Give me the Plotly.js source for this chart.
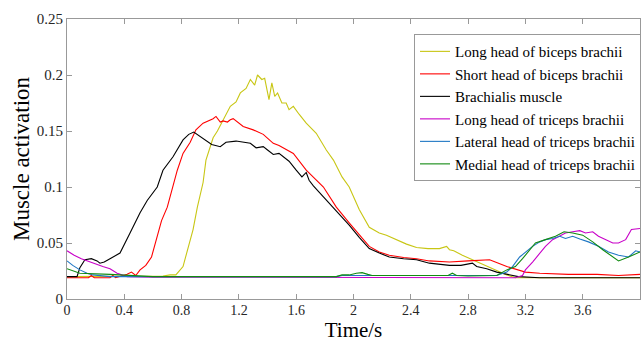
<!DOCTYPE html>
<html>
<head>
<meta charset="utf-8">
<script src="https://cdn.plot.ly/plotly-3.0.1.min.js"></script>
<style>html,body{margin:0;padding:0;background:#fff;}#chart{width:641px;height:342px;}</style>
</head>
<body>
<div id="chart"></div>
<script>
// Long head of biceps brachii
const tLongBiceps = [0,0.3,0.6,0.67,0.72,0.76,0.81,0.84,0.88,0.91,0.95,0.97,1.02,1.05,1.09,1.14,1.18,1.21,1.25,1.28,1.31,1.33,1.36,1.38,1.41,1.43,1.45,1.47,1.50,1.53,1.55,1.58,1.62,1.67,1.74,1.81,1.86,1.92,1.97,2.04,2.11,2.18,2.23,2.30,2.37,2.44,2.52,2.60,2.65,2.67,2.70,2.76,2.83,2.95,3.07,3.13,3.3,4.0];
const vLongBiceps = [0.02,0.02,0.02,0.0205,0.0215,0.0215,0.029,0.044,0.062,0.082,0.104,0.124,0.144,0.150,0.160,0.172,0.176,0.184,0.188,0.196,0.191,0.200,0.196,0.197,0.178,0.193,0.181,0.184,0.175,0.175,0.169,0.172,0.165,0.157,0.148,0.133,0.124,0.109,0.100,0.080,0.064,0.059,0.057,0.053,0.049,0.046,0.045,0.045,0.047,0.044,0.043,0.039,0.035,0.028,0.0215,0.019,0.019,0.019];
// Short head of biceps brachii
const tShortBiceps = [0,0.15,0.17,0.19,0.3,0.32,0.34,0.42,0.45,0.48,0.51,0.55,0.59,0.63,0.66,0.70,0.72,0.77,0.81,0.86,0.9,0.95,1.02,1.04,1.07,1.09,1.12,1.14,1.16,1.2,1.23,1.30,1.37,1.44,1.48,1.58,1.67,1.79,1.88,1.97,2.04,2.11,2.18,2.25,2.35,2.44,2.53,2.67,2.8,2.95,3.07,3.2,3.3,3.5,3.7,3.85,4.0];
const vShortBiceps = [0.019,0.019,0.021,0.019,0.019,0.021,0.019,0.022,0.024,0.021,0.026,0.030,0.0375,0.055,0.07,0.082,0.091,0.115,0.130,0.140,0.151,0.157,0.161,0.163,0.158,0.159,0.158,0.160,0.161,0.157,0.154,0.151,0.147,0.139,0.137,0.130,0.115,0.100,0.082,0.068,0.057,0.047,0.042,0.039,0.037,0.036,0.034,0.033,0.034,0.035,0.029,0.024,0.023,0.022,0.022,0.021,0.022];
// Brachialis muscle
const tBrachialis = [0,0.07,0.09,0.125,0.17,0.21,0.23,0.26,0.3,0.37,0.44,0.49,0.51,0.56,0.63,0.67,0.74,0.81,0.85,0.885,0.92,0.96,1.01,1.07,1.11,1.18,1.23,1.28,1.32,1.37,1.40,1.44,1.48,1.55,1.6,1.64,1.67,1.69,1.72,1.8,1.88,1.97,2.04,2.11,2.18,2.25,2.35,2.44,2.53,2.6,2.67,2.75,2.8,2.83,2.86,2.93,3.0,3.07,3.15,3.3,3.5,3.7,4.0];
const vBrachialis = [0.02,0.02,0.028,0.035,0.036,0.034,0.032,0.033,0.036,0.041,0.059,0.073,0.077,0.088,0.1,0.115,0.127,0.142,0.147,0.149,0.146,0.142,0.138,0.136,0.140,0.141,0.140,0.139,0.135,0.136,0.133,0.129,0.130,0.123,0.115,0.109,0.113,0.106,0.101,0.09,0.079,0.066,0.055,0.045,0.041,0.0375,0.036,0.035,0.032,0.031,0.030,0.030,0.031,0.032,0.029,0.027,0.024,0.022,0.020,0.019,0.019,0.019,0.019];
// Long head of triceps brachii
const tLongTriceps = [0,0.05,0.1,0.18,0.25,0.3,0.35,0.42,0.6,1.0,1.5,2.0,2.5,3.02,3.13,3.18,3.2,3.25,3.30,3.34,3.39,3.44,3.48,3.53,3.58,3.62,3.67,3.71,3.76,3.81,3.85,3.90,3.94,4.0];
const vLongTriceps = [0.043,0.039,0.036,0.032,0.029,0.027,0.023,0.020,0.0195,0.0195,0.0195,0.0195,0.0195,0.0195,0.019,0.021,0.026,0.033,0.041,0.047,0.053,0.056,0.059,0.060,0.061,0.059,0.060,0.056,0.053,0.050,0.050,0.053,0.062,0.063];
// Lateral head of triceps brachii
const tLateral = [0,0.04,0.09,0.14,0.18,0.3,1.0,1.88,1.92,2.0,2.5,2.7,3.0,3.07,3.11,3.16,3.20,3.25,3.30,3.34,3.39,3.44,3.48,3.53,3.58,3.64,3.71,3.78,3.85,3.92,3.97,4.0];
const vLateral = [0.034,0.030,0.026,0.023,0.0215,0.020,0.020,0.020,0.021,0.021,0.021,0.021,0.021,0.024,0.029,0.0375,0.042,0.047,0.051,0.053,0.054,0.056,0.054,0.056,0.0535,0.051,0.047,0.042,0.039,0.0375,0.043,0.042];
// Medial head of triceps brachii
const tMedial = [0,0.09,0.3,0.42,0.55,0.6,1.0,1.88,1.92,1.97,2.02,2.06,2.1,2.13,2.4,2.66,2.69,2.72,2.8,2.9,3.0,3.07,3.13,3.18,3.23,3.27,3.34,3.41,3.47,3.53,3.60,3.67,3.74,3.81,3.85,3.92,4.0];
const vMedial = [0.027,0.023,0.022,0.021,0.0205,0.020,0.020,0.020,0.0215,0.0215,0.023,0.0235,0.022,0.021,0.021,0.021,0.023,0.021,0.0205,0.021,0.021,0.026,0.029,0.036,0.044,0.050,0.053,0.056,0.060,0.059,0.057,0.051,0.044,0.0375,0.034,0.0375,0.042];

const seriesNames = ["Long head of biceps brachii","Short head of biceps brachii","Brachialis muscle","Long head of triceps brachii","Lateral head of triceps brachii","Medial head of triceps brachii"];
const xTickVals = [0,0.4,0.8,1.2,1.6,2,2.4,2.8,3.2,3.6,4];
const xTickText = ["0","0.4","0.8","1.2","1.6","2","2.4","2.8","3.2","3.6","4"];
const yTickVals = [0,0.05,0.1,0.15,0.2,0.25];
const yTickText = ["0","0.05","0.1","0.15","0.2","0.25"];

const xs = [tLongBiceps,tShortBiceps,tBrachialis,tLongTriceps,tLateral,tMedial];
const ys = [vLongBiceps,vShortBiceps,vBrachialis,vLongTriceps,vLateral,vMedial];
const colors = ["#C8C614","#FF0000","#000000","#C800C8","#1F77C4","#118A11"];

const traces = seriesNames.map((n,i)=>({
  x: xs[i], y: ys[i], name: n, type: "scatter", mode: "lines",
  line: {color: colors[i], width: 1.1}
}));

const font = "Liberation Serif, Times New Roman, serif";
const layout = {
  width: 641, height: 342,
  margin: {l: 67, r: 0, t: 19, b: 43},
  paper_bgcolor: "#fff", plot_bgcolor: "#fff",
  font: {family: font, color: "#262626"},
  showlegend: true,
  legend: {
    x: 0.606, y: 0.946, xanchor: "left", yanchor: "top",
    bgcolor: "#fff", bordercolor: "#999", borderwidth: 1,
    font: {family: font, size: 15, color: "#000"},
    itemwidth: 30, tracegroupgap: 0
  },
  xaxis: {
    range: [0, 4], tickvals: xTickVals, ticktext: xTickText,
    ticks: "inside", ticklen: 5, tickcolor: "#999", showline: true, linecolor: "#999", linewidth: 1,
    mirror: "ticks", showgrid: false, zeroline: false,
    ticklabelstandoff: -2,
    tickfont: {family: font, size: 14, color: "#262626"},
    title: {text: "Time/s", font: {family: font, size: 21, color: "#000"}}
  },
  yaxis: {
    range: [0, 0.25], tickvals: yTickVals, ticktext: yTickText,
    ticks: "inside", ticklen: 5, tickcolor: "#999", showline: true, linecolor: "#999", linewidth: 1,
    mirror: "ticks", showgrid: false, zeroline: false,
    tickfont: {family: font, size: 15, color: "#262626"},
    title: {text: "Muscle activation", font: {family: font, size: 23, color: "#000"}, standoff: 0}
  }
};
Plotly.newPlot("chart", traces, layout, {displayModeBar: false, staticPlot: true});
</script>
</body>
</html>
